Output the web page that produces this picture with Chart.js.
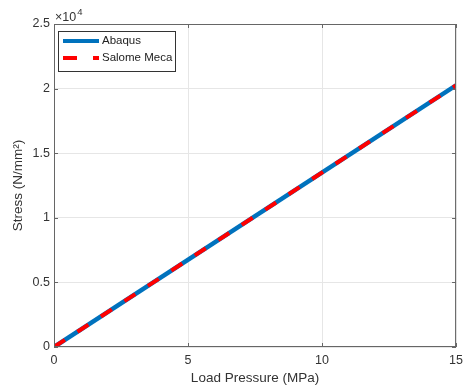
<!DOCTYPE html>
<html>
<head>
<meta charset="UTF-8">
<title>Stress vs Load Pressure</title>
<script src="https://cdn.jsdelivr.net/npm/chart.js"></script>
<style>
  body { margin: 0; background: #fff; }
  #wrap { width: 469px; height: 390px; }
</style>
</head>
<body>
<div id="wrap"><canvas id="chart"></canvas></div>
<script>
// data
var pressure = [0, 15];
var abaqus = [0, 20250];
var salome = [0, 20250];
var xTicks = [0, 5, 10, 15];
var yTicks = [0, 5000, 10000, 15000, 20000, 25000];

function pts(xs, ys) {
    return xs.map(function (x, i) { return { x: x, y: ys[i] }; });
}

var axisColor = '#666';
var textColor = '#333';
var font = 'Liberation Sans, Arial, sans-serif';

// box, inward ticks, exponent label and legend
var extras = {
    id: 'extras',
    afterDraw: function (chart) {
        var c = chart.ctx, a = chart.chartArea;
        var xs = chart.scales.x, ys = chart.scales.y;
        c.save();
        c.strokeStyle = axisColor;
        c.lineWidth = 1;
        c.strokeRect(a.left + 0.5, a.top + 0.5, a.right - a.left - 1, a.bottom - a.top - 1);
        c.beginPath();
        xTicks.forEach(function (t) {
            var px = Math.round(xs.getPixelForValue(t)) + 0.5;
            c.moveTo(px, a.bottom); c.lineTo(px, a.bottom - 4);
            c.moveTo(px, a.top); c.lineTo(px, a.top + 4);
        });
        yTicks.forEach(function (t) {
            var py = Math.round(ys.getPixelForValue(t)) + 0.5;
            c.moveTo(a.left, py); c.lineTo(a.left + 4, py);
            c.moveTo(a.right, py); c.lineTo(a.right - 4, py);
        });
        c.stroke();

        // x10^4
        c.fillStyle = textColor;
        c.font = '12.5px ' + font;
        c.textBaseline = 'alphabetic';
        c.fillText('\u00d710', a.left + 1, a.top - 3);
        var w = c.measureText('\u00d710').width;
        c.font = '9.5px ' + font;
        c.fillText('4', a.left + 2 + w, a.top - 9);

        // legend
        var lx = a.left + 4, ly = a.top + 7, lw = 117, lh = 40;
        c.fillStyle = '#fff';
        c.fillRect(lx, ly, lw, lh);
        c.strokeStyle = '#333';
        c.strokeRect(lx + 0.5, ly + 0.5, lw, lh);
        c.lineWidth = 4;
        c.strokeStyle = '#0072BD';
        c.beginPath(); c.moveTo(lx + 5, ly + 10); c.lineTo(lx + 41, ly + 10); c.stroke();
        c.strokeStyle = '#ff0000';
        c.setLineDash([14, 16]);
        c.beginPath(); c.moveTo(lx + 5, ly + 27); c.lineTo(lx + 41, ly + 27); c.stroke();
        c.setLineDash([]);
        c.fillStyle = '#222';
        c.font = '11.5px ' + font;
        c.textBaseline = 'middle';
        c.fillText('Abaqus', lx + 44, ly + 10);
        c.fillText('Salome Meca', lx + 44, ly + 27);
        c.restore();
    }
};

new Chart(document.getElementById('chart'), {
    type: 'scatter',
    data: {
        datasets: [{
            label: 'Abaqus',
            data: pts(pressure, abaqus),
            showLine: true,
            borderColor: '#0072BD',
            borderWidth: 4.5,
            pointRadius: 0,
            order: 2
        }, {
            label: 'Salome Meca',
            data: pts(pressure, salome),
            showLine: true,
            borderColor: '#ff0000',
            borderWidth: 4,
            borderDash: [13, 15],
            pointRadius: 0,
            order: 1
        }]
    },
    options: {
        responsive: true,
        maintainAspectRatio: false,
        animation: false,
        layout: { padding: { top: 24, right: 6, left: 0, bottom: 0 } },
        plugins: { legend: { display: false }, tooltip: { enabled: false } },
        scales: {
            x: {
                type: 'linear', min: 0, max: 15,
                afterBuildTicks: function (s) { s.ticks = xTicks.map(function (v) { return { value: v }; }); },
                afterFit: function (s) { s.height = 43; },
                grid: { color: '#e6e6e6', drawTicks: false },
                border: { display: false },
                ticks: { color: textColor, font: { size: 12.5, family: font }, padding: 6, maxRotation: 0 },
                title: { display: true, text: 'Load Pressure (MPa)', color: textColor, font: { size: 13.5, family: font }, padding: { top: 0 } }
            },
            y: {
                type: 'linear', min: 0, max: 25000,
                afterBuildTicks: function (s) { s.ticks = yTicks.map(function (v) { return { value: v }; }); },
                afterFit: function (s) { s.width = 54; },
                grid: { color: '#e6e6e6', drawTicks: false },
                border: { display: false },
                ticks: { color: textColor, font: { size: 12.5, family: font }, padding: 4,
                    callback: function (v) { return v / 10000; } },
                title: { display: true, text: 'Stress (N/mm\u00b2)', color: textColor, font: { size: 13.5, family: font }, padding: { top: 10, bottom: 2 } }
            }
        }
    },
    plugins: [extras]
});
</script>
</body>
</html>
